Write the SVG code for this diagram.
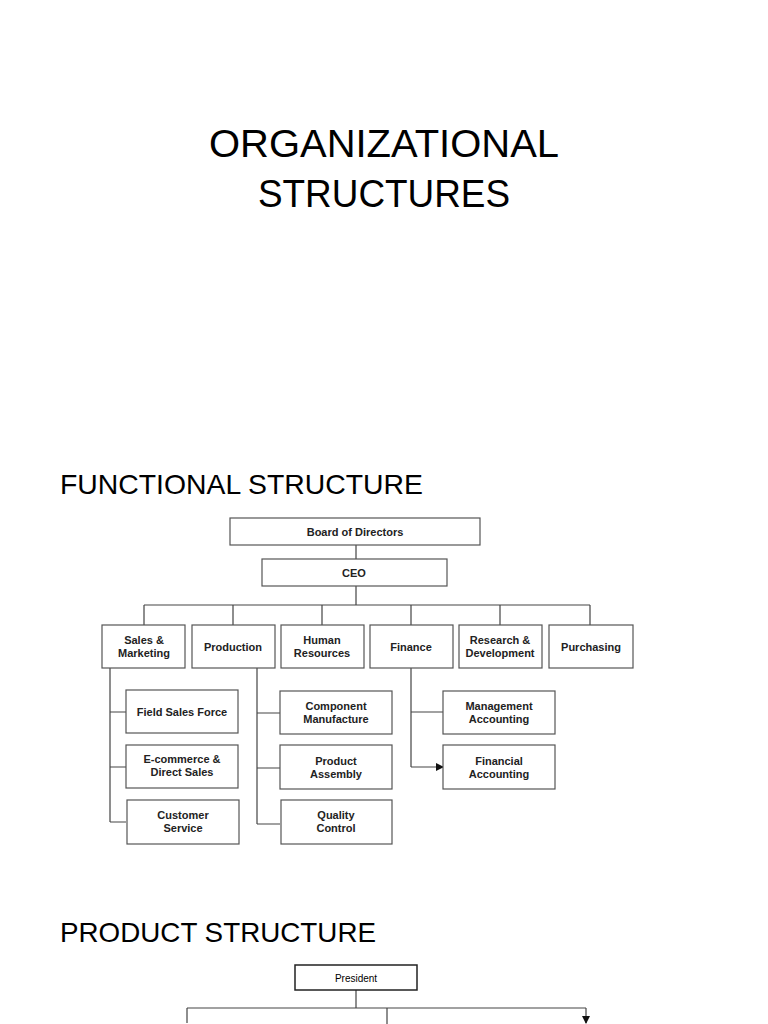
<svg xmlns="http://www.w3.org/2000/svg" width="768" height="1024" viewBox="0 0 768 1024">
<style>
.t{font-family:"Liberation Sans",Arial,sans-serif;fill:#000}
.h{font-size:38px}
.s{font-size:28px}
.b{fill:#fff;stroke:#555;stroke-width:1.2}
.l{font-family:"Liberation Sans",Arial,sans-serif;font-size:11px;font-weight:bold;fill:#222;text-anchor:middle}
.c{fill:none;stroke:#444;stroke-width:1.2}
</style>
<defs><marker id="a" markerWidth="8" markerHeight="8" refX="7" refY="4" orient="auto" markerUnits="userSpaceOnUse"><path d="M0,0L8,4L0,8z" fill="#111"/></marker></defs>
<rect width="768" height="1024" fill="#fff"/>
<text class="t h" x="384" y="157" text-anchor="middle" textLength="350" lengthAdjust="spacingAndGlyphs">ORGANIZATIONAL</text>
<text class="t h" x="384" y="207" text-anchor="middle" textLength="252" lengthAdjust="spacingAndGlyphs">STRUCTURES</text>
<text class="t s" x="60" y="494" textLength="363" lengthAdjust="spacingAndGlyphs">FUNCTIONAL STRUCTURE</text>
<text class="t s" x="60" y="942" textLength="316" lengthAdjust="spacingAndGlyphs">PRODUCT STRUCTURE</text>
<g id="connectors">
<path class="c" d="M356,545V559M356,586V605M144,605H590M144,605V625M233,605V625M322,605V625M411,605V625M500,605V625M590,605V625"/>
<path class="c" d="M110,668V822M257,668V824M411,668V767"/>
<path class="c" marker-end="url(#a)" d="M110,712H126M110,767H126M110,822H126M257,713H280M257,768H280M257,824H280M411,712H443M411,767H443"/>
<path class="c" d="M356,990V1008M187,1008H586M387,1008V1024"/>
<path class="c" marker-end="url(#a)" d="M187,1008V1023M586,1008V1023"/>
</g>
<g id="board"><rect class="b" x="230" y="518" width="250" height="27"/><text class="l" x="355" y="536">Board of Directors</text></g>
<g id="ceo"><rect class="b" x="262" y="559" width="185" height="27"/><text class="l" x="354" y="577">CEO</text></g>
<g id="sales"><rect class="b" x="102" y="625" width="83" height="43"/><text class="l" x="144" y="644">Sales &amp;</text><text class="l" x="144" y="657">Marketing</text></g>
<g id="production"><rect class="b" x="192" y="625" width="83" height="43"/><text class="l" x="233" y="651">Production</text></g>
<g id="hr"><rect class="b" x="281" y="625" width="83" height="43"/><text class="l" x="322" y="644">Human</text><text class="l" x="322" y="657">Resources</text></g>
<g id="finance"><rect class="b" x="370" y="625" width="83" height="43"/><text class="l" x="411" y="651">Finance</text></g>
<g id="rd"><rect class="b" x="459" y="625" width="83" height="43"/><text class="l" x="500" y="644">Research &amp;</text><text class="l" x="500" y="657">Development</text></g>
<g id="purchasing"><rect class="b" x="549" y="625" width="84" height="43"/><text class="l" x="591" y="651">Purchasing</text></g>
<g id="field"><rect class="b" x="126" y="690" width="112" height="43"/><text class="l" x="182" y="716">Field Sales Force</text></g>
<g id="ecom"><rect class="b" x="126" y="745" width="112" height="43"/><text class="l" x="182" y="763">E-commerce &amp;</text><text class="l" x="182" y="776">Direct Sales</text></g>
<g id="cs"><rect class="b" x="127" y="800" width="112" height="44"/><text class="l" x="183" y="819">Customer</text><text class="l" x="183" y="832">Service</text></g>
<g id="comp"><rect class="b" x="280" y="691" width="112" height="43"/><text class="l" x="336" y="710">Component</text><text class="l" x="336" y="723">Manufacture</text></g>
<g id="assembly"><rect class="b" x="280" y="745" width="112" height="44"/><text class="l" x="336" y="765">Product</text><text class="l" x="336" y="778">Assembly</text></g>
<g id="qc"><rect class="b" x="281" y="800" width="111" height="44"/><text class="l" x="336" y="819">Quality</text><text class="l" x="336" y="832">Control</text></g>
<g id="mgmt"><rect class="b" x="443" y="691" width="112" height="43"/><text class="l" x="499" y="710">Management</text><text class="l" x="499" y="723">Accounting</text></g>
<g id="fin"><rect class="b" x="443" y="745" width="112" height="44"/><text class="l" x="499" y="765">Financial</text><text class="l" x="499" y="778">Accounting</text></g>
<g id="president"><rect x="295" y="965" width="122" height="25" fill="#fff" stroke="#222" stroke-width="1.5"/><text x="356" y="982" text-anchor="middle" font-family="Liberation Sans,Arial,sans-serif" font-size="10">President</text></g>
</svg>
